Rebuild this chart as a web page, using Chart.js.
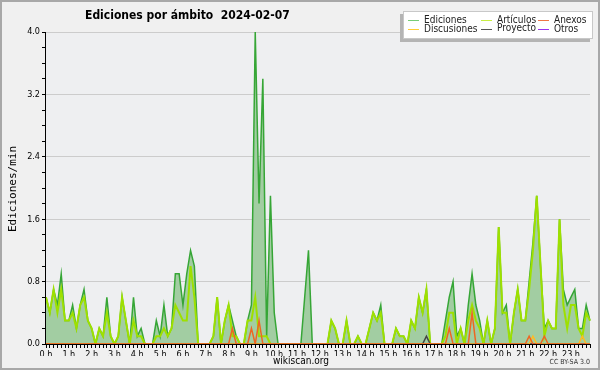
<!DOCTYPE html>
<html>
<head>
<meta charset="utf-8">
<script src="https://cdn.jsdelivr.net/npm/chart.js@4"></script>
<style>
  html, body { margin: 0; padding: 0; background: #f0f0f0; }
</style>
</head>
<body>
<canvas id="chart" width="600" height="370"></canvas>
<script>
// hour tick labels, one data point every 10 minutes
const hourLabels = ['0 h', '1 h', '2 h', '3 h', '4 h', '5 h', '6 h', '7 h', '8 h', '9 h', '10 h', '11 h',
  '12 h', '13 h', '14 h', '15 h', '16 h', '17 h', '18 h', '19 h', '20 h', '21 h', '22 h', '23 h'];
const minuteSlots = ['00', '10', '20', '30', '40', '50'];

const ediciones = [
  0.6, 0.4, 0.7, 0.5, 0.9, 0.3,
  0.3, 0.5, 0.2, 0.5, 0.7, 0.3,
  0.2, 0, 0.2, 0.1, 0.6, 0.1,
  0, 0.1, 0.6, 0.3, 0, 0.6,
  0.1, 0.2, 0, 0, 0, 0.3,
  0.1, 0.5, 0.1, 0.2, 0.9, 0.9,
  0.5, 0.9, 1.2, 1.0, 0, 0,
  0, 0, 0.1, 0.6, 0, 0.3,
  0.5, 0.3, 0.1, 0, 0, 0.3,
  0.5, 4.0, 1.8, 3.4, 0.1, 1.9,
  0.4, 0, 0, 0, 0, 0,
  0, 0, 0.6, 1.2, 0, 0,
  0, 0, 0, 0.3, 0.2, 0,
  0, 0.3, 0, 0, 0.1, 0,
  0, 0.2, 0.4, 0.3, 0.5, 0,
  0, 0, 0.2, 0.1, 0.1, 0,
  0.3, 0.2, 0.6, 0.4, 0.7, 0,
  0, 0, 0, 0.3, 0.6, 0.8,
  0.1, 0.2, 0, 0.5, 0.9, 0.5,
  0.3, 0, 0.3, 0, 0.2, 1.5,
  0.4, 0.5, 0, 0.4, 0.7, 0.3,
  0.3, 0.8, 1.3, 1.9, 1.0, 0.2,
  0.3, 0.2, 0.2, 1.6, 0.7, 0.5,
  0.6, 0.7, 0.2, 0.2, 0.5, 0.3
];

const articulos = [
  0.6, 0.4, 0.7, 0.4, 0.7, 0.3,
  0.3, 0.4, 0.2, 0.5, 0.6, 0.3,
  0.2, 0, 0.2, 0.1, 0.4, 0.1,
  0, 0.1, 0.6, 0.3, 0, 0.3,
  0.1, 0.1, 0, 0, 0, 0.1,
  0.1, 0.2, 0.1, 0.2, 0.5, 0.4,
  0.3, 0.3, 1.0, 0.6, 0, 0,
  0, 0, 0.1, 0.6, 0, 0.3,
  0.5, 0.1, 0.1, 0, 0, 0.3,
  0.3, 0.6, 0.1, 0.1, 0.1, 0,
  0, 0, 0, 0, 0, 0,
  0, 0, 0, 0, 0, 0,
  0, 0, 0, 0.3, 0.2, 0,
  0, 0.3, 0, 0, 0.1, 0,
  0, 0.2, 0.4, 0.3, 0.4, 0,
  0, 0, 0.2, 0.1, 0.1, 0,
  0.3, 0.2, 0.6, 0.4, 0.7, 0,
  0, 0, 0, 0.1, 0.4, 0.4,
  0, 0.2, 0, 0.3, 0.5, 0.3,
  0.2, 0, 0.3, 0, 0.2, 1.5,
  0.4, 0.4, 0, 0.4, 0.7, 0.3,
  0.3, 0.7, 1.2, 1.9, 1.0, 0.1,
  0.3, 0.2, 0.2, 1.6, 0.5, 0.2,
  0.5, 0.5, 0.2, 0.1, 0.4, 0.3
];

const anexos = [
  0, 0, 0, 0, 0, 0,  0, 0, 0, 0, 0, 0,  0, 0, 0, 0, 0, 0,  0, 0, 0, 0, 0, 0,
  0, 0, 0, 0, 0, 0,  0, 0, 0, 0, 0, 0,  0, 0, 0, 0, 0, 0,  0, 0, 0, 0, 0, 0,
  0, 0.2, 0, 0, 0, 0,  0.2, 0, 0.3, 0, 0, 0,  0, 0, 0, 0, 0, 0,  0, 0, 0, 0, 0, 0,
  0, 0, 0, 0, 0, 0,  0, 0, 0, 0, 0, 0,  0, 0, 0, 0, 0, 0,  0, 0, 0, 0, 0, 0,
  0, 0, 0, 0, 0, 0,  0, 0, 0, 0, 0.2, 0,  0, 0, 0, 0, 0.4, 0,  0, 0, 0, 0, 0, 0,
  0, 0, 0, 0, 0, 0,  0, 0.1, 0, 0, 0, 0.1,  0, 0, 0, 0, 0, 0,  0, 0, 0, 0, 0, 0
];

const discusiones = [
  0, 0, 0, 0, 0, 0,  0, 0, 0, 0, 0, 0,  0, 0, 0, 0, 0, 0,  0, 0, 0, 0, 0, 0,
  0, 0, 0, 0, 0, 0,  0, 0, 0, 0, 0, 0,  0, 0, 0, 0, 0, 0,  0, 0, 0, 0, 0, 0,
  0, 0, 0, 0, 0, 0,  0, 0, 0, 0, 0, 0,  0, 0, 0, 0, 0, 0,  0, 0, 0, 0, 0, 0,
  0, 0, 0, 0, 0, 0,  0, 0, 0, 0, 0, 0,  0, 0, 0, 0, 0, 0,  0, 0, 0, 0, 0, 0,
  0, 0, 0, 0, 0, 0,  0, 0, 0, 0, 0, 0,  0, 0, 0, 0, 0, 0,  0, 0, 0, 0, 0, 0,
  0, 0, 0, 0, 0, 0,  0, 0, 0.1, 0, 0, 0,  0, 0, 0, 0, 0, 0,  0, 0, 0, 0.1, 0, 0
];

const proyecto = [
  0, 0, 0, 0, 0, 0,  0, 0, 0, 0, 0, 0,  0, 0, 0, 0, 0, 0,  0, 0, 0, 0, 0, 0,
  0, 0, 0, 0, 0, 0,  0, 0, 0, 0, 0, 0,  0, 0, 0, 0, 0, 0,  0, 0, 0, 0, 0, 0,
  0, 0, 0, 0, 0, 0,  0, 0, 0, 0, 0, 0,  0, 0, 0, 0, 0, 0,  0, 0, 0, 0, 0, 0,
  0, 0, 0, 0, 0, 0,  0, 0, 0, 0, 0, 0,  0, 0, 0, 0, 0, 0,  0, 0, 0, 0, 0, 0,
  0, 0, 0, 0, 0.1, 0,  0, 0, 0, 0, 0, 0,  0, 0, 0, 0, 0, 0,  0, 0, 0, 0, 0, 0,
  0, 0, 0, 0, 0, 0,  0, 0, 0, 0, 0, 0,  0, 0, 0, 0, 0, 0,  0, 0, 0, 0, 0, 0
];

const otros = [
  0, 0, 0, 0, 0, 0,  0, 0, 0, 0, 0, 0,  0, 0, 0, 0, 0, 0,  0, 0, 0, 0, 0, 0,
  0, 0, 0, 0, 0, 0,  0, 0, 0, 0, 0, 0,  0, 0, 0, 0, 0, 0,  0, 0, 0, 0, 0, 0,
  0, 0, 0, 0, 0, 0,  0, 0, 0, 0, 0, 0,  0, 0, 0, 0, 0, 0,  0, 0, 0, 0, 0, 0,
  0, 0, 0, 0, 0, 0,  0, 0, 0, 0, 0, 0,  0, 0, 0, 0, 0, 0,  0, 0, 0, 0, 0, 0,
  0, 0, 0, 0, 0, 0,  0, 0, 0, 0, 0, 0,  0, 0, 0, 0, 0, 0,  0, 0, 0, 0, 0, 0,
  0, 0, 0, 0, 0, 0,  0, 0, 0, 0, 0, 0,  0, 0, 0, 0, 0, 0,  0, 0, 0, 0, 0, 0
];

const titleText = 'Ediciones por ámbito  2024-02-07';
const yTitle = 'Ediciones/min';

// 10 minute slots, x axis is a category axis
const slots = [];
hourLabels.forEach(h => minuteSlots.forEach(m => slots.push(h.replace(' h', '') + ':' + m)));

// legend entries, in the order of the reference box
const legendItems = [
  { text: 'Ediciones', color: '#77cc77', col: 0, row: 0 },
  { text: 'Artículos', color: '#c8ee44', col: 1, row: 0 },
  { text: 'Anexos', color: '#ee7744', col: 2, row: 0 },
  { text: 'Discusiones', color: '#ffcc33', col: 0, row: 1 },
  { text: 'Proyecto', color: '#555555', col: 1, row: 1 },
  { text: 'Otros', color: '#9933ee', col: 2, row: 1 }
];

const smallFont = '"DejaVu Sans Condensed", "DejaVu Sans", sans-serif';

const decor = {
  id: 'decor',
  beforeDraw(chart) {
    const { ctx, chartArea: a } = chart;
    ctx.save();
    ctx.fillStyle = '#f0f0f0';
    ctx.fillRect(0, 0, chart.width, chart.height);
    ctx.fillStyle = '#eeeff1';
    ctx.fillRect(a.left, a.top, a.right - a.left, a.bottom - a.top);
    ctx.restore();
  },
  afterDatasetsDraw(chart) {
    // axis lines on top of the zero lines
    const { ctx, chartArea: a } = chart;
    ctx.save();
    ctx.strokeStyle = '#000';
    ctx.lineWidth = 1;
    ctx.beginPath();
    ctx.moveTo(Math.round(a.left) - 0.5, a.top);
    ctx.lineTo(Math.round(a.left) - 0.5, Math.round(a.bottom) + 0.5);
    ctx.lineTo(a.right, Math.round(a.bottom) + 0.5);
    ctx.stroke();
    ctx.restore();
  },
  afterDraw(chart) {
    const ctx = chart.ctx;
    ctx.save();
    // outer frame
    ctx.strokeStyle = '#a8a8a8';
    ctx.lineWidth = 2;
    ctx.strokeRect(1, 1, chart.width - 2, chart.height - 2);

    // title
    ctx.fillStyle = '#000';
    ctx.textBaseline = 'middle';
    ctx.font = 'bold 12px ' + smallFont;
    ctx.fillText(titleText, 85, 16);

    // y axis title
    ctx.save();
    ctx.translate(13, 189);
    ctx.rotate(-Math.PI / 2);
    ctx.textAlign = 'center';
    ctx.font = '11px "DejaVu Sans Mono", monospace';
    ctx.fillText(yTitle, 0, 0);
    ctx.restore();

    // footer
    ctx.textAlign = 'center';
    ctx.font = '10px ' + smallFont;
    ctx.fillText('wikiscan.org', 301, 361);
    ctx.textAlign = 'right';
    ctx.font = '7px ' + smallFont;
    ctx.fillStyle = '#333';
    ctx.fillText('CC BY-SA 3.0', 590, 362);

    // legend box with a light shadow
    ctx.fillStyle = '#b4b4b4';
    ctx.fillRect(400, 14, 190, 28);
    ctx.fillStyle = '#ffffff';
    ctx.fillRect(403, 11, 190, 28);
    ctx.strokeStyle = '#c8c8c8';
    ctx.lineWidth = 1;
    ctx.strokeRect(403.5, 11.5, 189, 27);
    const colX = [408, 481, 538];
    const rowY = [20, 29];
    ctx.textAlign = 'left';
    ctx.font = '10px ' + smallFont;
    legendItems.forEach(it => {
      const x = colX[it.col], y = rowY[it.row];
      ctx.strokeStyle = it.color;
      ctx.beginPath();
      ctx.moveTo(x, y + 0.5);
      ctx.lineTo(x + 11, y + 0.5);
      ctx.stroke();
      ctx.fillStyle = '#222';
      ctx.fillText(it.text, x + 16, y + (it.col === 1 && it.row === 1 ? -1 : 0));
    });
    ctx.restore();
  }
};

const lineDs = (label, data, color, extra) => Object.assign({
  label: label,
  data: data,
  borderColor: color,
  backgroundColor: color,
  borderWidth: 1.5,
  pointRadius: 0,
  fill: false,
  tension: 0
}, extra || {});

new Chart(document.getElementById('chart'), {
  type: 'line',
  data: {
    labels: slots,
    // first dataset is drawn on top
    datasets: [
      lineDs('Anexos', anexos, '#ee6622'),
      lineDs('Discusiones', discusiones, '#ffbb22'),
      lineDs('Proyecto', proyecto, '#444444'),
      lineDs('Otros', otros, '#9933ee'),
      lineDs('Artículos', articulos, '#9ee000', { borderWidth: 2 }),
      lineDs('Ediciones', ediciones, '#36a636', { fill: 'origin', backgroundColor: '#a2cda2' })
    ]
  },
  options: {
    responsive: false,
    animation: false,
    devicePixelRatio: 1,
    layout: { padding: { top: 32, right: 10, bottom: 14, left: 0 } },
    plugins: {
      legend: { display: false },
      title: { display: false },
      tooltip: { enabled: false }
    },
    scales: {
      x: {
        offset: false,
        border: { display: false },
        grid: { color: 'transparent', tickColor: '#000', tickLength: 4, offset: false },
        ticks: {
          autoSkip: false,
          maxRotation: 0,
          padding: 1,
          color: '#000',
          font: { family: smallFont, size: 9 },
          callback: (v, i) => (i % 6 === 0 ? hourLabels[i / 6] : '')
        },
        afterFit: s => { s.height = 12; }
      },
      y: {
        min: 0,
        max: 4,
        border: { display: false },
        grid: {
          color: c => (c.tick && c.tick.value > 0 && Math.round(c.tick.value * 10) % 8 === 0 ? '#cccccc' : 'transparent'),
          tickColor: '#000',
          tickLength: 4
        },
        ticks: {
          stepSize: 0.2,
          padding: 2,
          color: '#000',
          font: { family: smallFont, size: 9 },
          callback: v => (Math.round(v * 10) % 8 === 0 ? v.toFixed(1) : '')
        },
        afterFit: s => { s.width = 46; }
      }
    }
  },
  plugins: [decor]
});
</script>
</body>
</html>
